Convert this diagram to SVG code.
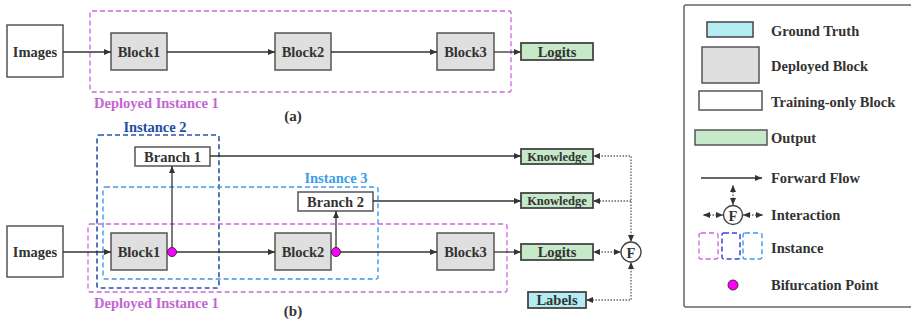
<svg xmlns="http://www.w3.org/2000/svg" width="911" height="326" viewBox="0 0 911 326">
  <defs>
    <marker id="arr" viewBox="0 0 7 6" markerWidth="7" markerHeight="6" refX="7" refY="3" orient="auto-start-reverse" markerUnits="userSpaceOnUse">
      <path d="M0,0 L7,3 L0,6 z" fill="#333"/>
    </marker>
    <style>
      text { font-family: "Liberation Serif", "Times New Roman", serif; font-weight: bold; fill: #333; dominant-baseline: central; }
      .lbl { font-size: 14.5px; text-anchor: middle; }
      .sm { font-size: 12.5px; text-anchor: middle; }
      .leg { font-size: 14.5px; text-anchor: start; }
      .plain { fill: #fff; stroke: #555; stroke-width: 1.5; }
      .block { fill: #dfdfdf; stroke: #555; stroke-width: 1.5; }
      .out { fill: #c6e9c9; stroke: #444; stroke-width: 1.8; }
      .gt { fill: #b3ecf2; stroke: #444; stroke-width: 1.8; }
      .flow { fill: none; stroke: #333; stroke-width: 1.3; marker-end: url(#arr); }
      .dot { fill: none; stroke: #666; stroke-width: 1.4; stroke-dasharray: 1.5 1.5; marker-start: url(#arr); marker-end: url(#arr); }
      .inst1 { fill: none; stroke: #cc66dd; stroke-width: 1.3; stroke-dasharray: 5 3; }
      .inst2 { fill: none; stroke: #2a55a8; stroke-width: 1.6; stroke-dasharray: 5 3; }
      .inst3 { fill: none; stroke: #3d9be9; stroke-width: 1.4; stroke-dasharray: 5 3; }
      .bif { fill: #ff00ff; stroke: #333; stroke-width: 1; }
    </style>
  </defs>

  <!-- (a) deployed network -->
  <g id="a-instance1">
    <rect class="inst1" x="90" y="11" width="421" height="81" rx="2"/>
    <text x="94" y="103" style="font-size:14.5px;fill:#c266d2">Deployed Instance 1</text>
  </g>
  <g id="a-images"><rect class="plain" x="7" y="25" width="56" height="52"/><text class="lbl" x="35" y="52">Images</text></g>
  <g id="a-block1"><rect class="block" x="111" y="33" width="56" height="37"/><text class="lbl" x="139" y="52">Block1</text></g>
  <g id="a-block2"><rect class="block" x="275" y="33" width="56" height="37"/><text class="lbl" x="303" y="52">Block2</text></g>
  <g id="a-block3"><rect class="block" x="437" y="33" width="57" height="37"/><text class="lbl" x="465.5" y="52">Block3</text></g>
  <g id="a-logits"><rect class="out" x="521" y="43" width="72" height="17"/><text class="lbl" x="557" y="52">Logits</text></g>
  <text class="lbl" x="293" y="116" style="font-size:15px">(a)</text>

  <!-- (b) training with instances -->
  <g id="b-instance2">
    <rect class="inst2" x="97" y="135" width="122" height="153" rx="2"/>
    <text class="lbl" x="155" y="127" style="fill:#1d4ea3">Instance 2</text>
  </g>
  <g id="b-instance3">
    <rect class="inst3" x="103" y="187" width="275" height="92" rx="2"/>
    <text class="lbl" x="336" y="178" style="fill:#3a9ee8">Instance 3</text>
  </g>
  <g id="b-instance1">
    <rect class="inst1" x="88" y="224" width="419" height="68" rx="2"/>
    <text x="94" y="303" style="font-size:14.5px;fill:#c266d2">Deployed Instance 1</text>
  </g>
  <g id="b-images"><rect class="plain" x="7" y="226" width="56" height="51"/><text class="lbl" x="35" y="252">Images</text></g>
  <g id="b-block1"><rect class="block" x="111" y="233" width="56" height="37"/><text class="lbl" x="139" y="252">Block1</text></g>
  <g id="b-block2"><rect class="block" x="275" y="233" width="56" height="37"/><text class="lbl" x="303" y="252">Block2</text></g>
  <g id="b-block3"><rect class="block" x="437" y="233" width="57" height="37"/><text class="lbl" x="465.5" y="252">Block3</text></g>
  <g id="b-branch1"><rect class="plain" x="135" y="147" width="75" height="19"/><text class="lbl" x="172.5" y="157">Branch 1</text></g>
  <g id="b-branch2"><rect class="plain" x="298" y="192" width="75" height="19"/><text class="lbl" x="335.5" y="202">Branch 2</text></g>
  <g id="b-knowledge1"><rect class="out" x="521" y="149" width="72" height="15"/><text class="sm" x="557" y="157">Knowledge</text></g>
  <g id="b-knowledge2"><rect class="out" x="521" y="193" width="72" height="15"/><text class="sm" x="557" y="201">Knowledge</text></g>
  <g id="b-logits"><rect class="out" x="521" y="244" width="72" height="16"/><text class="lbl" x="557" y="252">Logits</text></g>
  <g id="b-labels"><rect class="gt" x="528" y="292" width="58" height="16"/><text class="lbl" x="557" y="300">Labels</text></g>
  <g id="b-fusion"><circle cx="631" cy="252" r="10" fill="#fff" stroke="#444" stroke-width="1.4"/><text class="lbl" x="631" y="253">F</text></g>
  <text class="lbl" x="293" y="311" style="font-size:15px">(b)</text>

  <g id="connectors">
    <!-- (a) -->
    <path class="flow" d="M63,52 H111"/>
    <path class="flow" d="M167,52 H275"/>
    <path class="flow" d="M331,52 H437"/>
    <path class="flow" d="M494,52 H521"/>
    <!-- (b) -->
    <path class="flow" d="M63,252 H111"/>
    <path class="flow" d="M167,252 H275"/>
    <path class="flow" d="M331,252 H437"/>
    <path class="flow" d="M494,252 H521"/>
    <path class="flow" d="M172,252 V166"/>
    <path class="flow" d="M336,252 V211"/>
    <path class="flow" d="M210,156 H521"/>
    <path class="flow" d="M373,201 H521"/>
    <path class="dot" d="M631,242 V156 H593"/>
    <path class="dot" d="M631,201 H593" style="marker-start:none"/>
    <path class="dot" d="M621,252 H593"/>
    <path class="dot" d="M631,262 V300 H586"/>
  </g>
  <g id="bifurcation-points">
    <circle class="bif" cx="172" cy="252" r="4.5"/>
    <circle class="bif" cx="336" cy="252" r="4.5"/>
  </g>

  <!-- legend -->
  <g id="legend">
    <rect x="684" y="5" width="240" height="302" rx="2" fill="#fff" stroke="#666" stroke-width="1.5"/>
    <rect class="gt" x="707" y="22" width="46" height="15" style="stroke-width:1.5"/>
    <text class="leg" x="771" y="31">Ground Truth</text>
    <rect class="block" x="702" y="47" width="57" height="36"/>
    <text class="leg" x="771" y="66">Deployed Block</text>
    <rect class="plain" x="699" y="91" width="63" height="19"/>
    <text class="leg" x="771" y="102">Training-only Block</text>
    <rect class="out" x="695" y="130" width="72" height="15" style="stroke-width:1.5;stroke:#555"/>
    <text class="leg" x="771" y="138">Output</text>
    <path class="flow" d="M701,178 H762"/>
    <text class="leg" x="771" y="178">Forward Flow</text>
    <circle cx="733" cy="215" r="9.5" fill="#fff" stroke="#444" stroke-width="1.4"/>
    <text class="lbl" x="733" y="216">F</text>
    <path class="dot" d="M733,205 V185"/>
    <path class="dot" d="M723,215 H703"/>
    <path class="dot" d="M743,215 H763"/>
    <text class="leg" x="771" y="215">Interaction</text>
    <rect class="inst1" x="699" y="233" width="19" height="26" rx="2"/>
    <rect x="722" y="233" width="18" height="26" rx="2" fill="none" stroke="#3f3fe0" stroke-width="1.5" stroke-dasharray="5 3"/>
    <rect class="inst3" x="743" y="233" width="19" height="26" rx="2"/>
    <text class="leg" x="771" y="248">Instance</text>
    <circle class="bif" cx="733" cy="285" r="5"/>
    <text class="leg" x="771" y="285">Bifurcation Point</text>
  </g>
</svg>
